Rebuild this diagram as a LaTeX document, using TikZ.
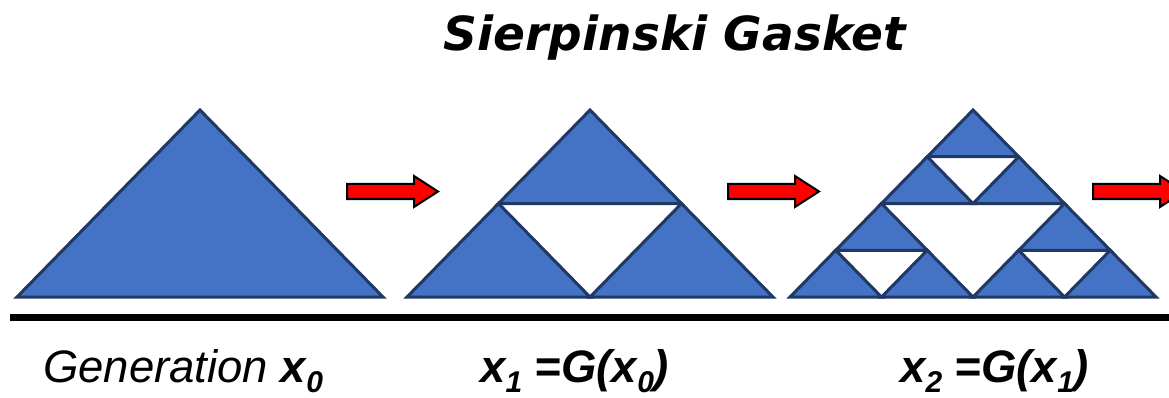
\documentclass[tikz,border=0pt]{standalone}
\usepackage{fontspec}
\setmainfont{Liberation Sans}
\newfontfamily\titlefont{DejaVu Sans}
\begin{document}
\begin{tikzpicture}[x=1pt,y=-1pt,
  tri/.style={fill=triblue,draw=trinavy,line width=3pt,line join=miter},
  redarrow/.style={fill=red,draw=black,line width=2pt,line join=miter},
  lbl/.style={inner sep=0pt,anchor=base west,font=\fontsize{45.5}{48}\selectfont\itshape}]
\definecolor{triblue}{HTML}{4472C4}
\definecolor{trinavy}{HTML}{1F3864}
\newcommand{\sbx}[1]{\raisebox{-0.22em}{\fontsize{30}{30}\selectfont #1}}
\newcommand{\ptri}[3]{\draw[tri] (#1,#2) -- ++(#3,0) -- ++(-#3/2,-#3*0.5109) -- cycle;}
\useasboundingbox (0,0) rectangle (1169,398);
% title
\node[inner sep=0pt,anchor=base] (title) at (675,51) {\titlefont\fontsize{47}{49}\selectfont\bfseries\itshape Sierpinski Gasket};
% generation 0
\ptri{17}{297}{366}
% generation 1
\ptri{407}{297}{183}
\ptri{590}{297}{183}
\ptri{498.5}{203.5}{183}
% generation 2
\foreach \bx/\by in {790/297, 973/297, 881.5/203.5}{
  \ptri{\bx}{\by}{91.5}
  \ptri{\bx+91.5}{\by}{91.5}
  \ptri{\bx+45.75}{\by-46.75}{91.5}
}
% arrows
\foreach \ax in {347,728,1093}{
  \draw[redarrow] (\ax,184) -- ++(67,0) -- ++(0,-8) -- ++(24,15.5) -- ++(-24,15.5) -- ++(0,-8) -- ++(-67,0) -- cycle;
}
% ground bar
\fill[black] (10,313.5) rectangle (1169,321);
% labels
\node[lbl] (g0) at (43,382) {Generation \textbf{x\sbx{0}}};
\node[lbl] (g1) at (480,382) {\bfseries x\sbx{1} =G(x\sbx{0})};
\node[lbl] (g2) at (900,382) {\bfseries x\sbx{2} =G(x\sbx{1})};
\end{tikzpicture}
\end{document}
